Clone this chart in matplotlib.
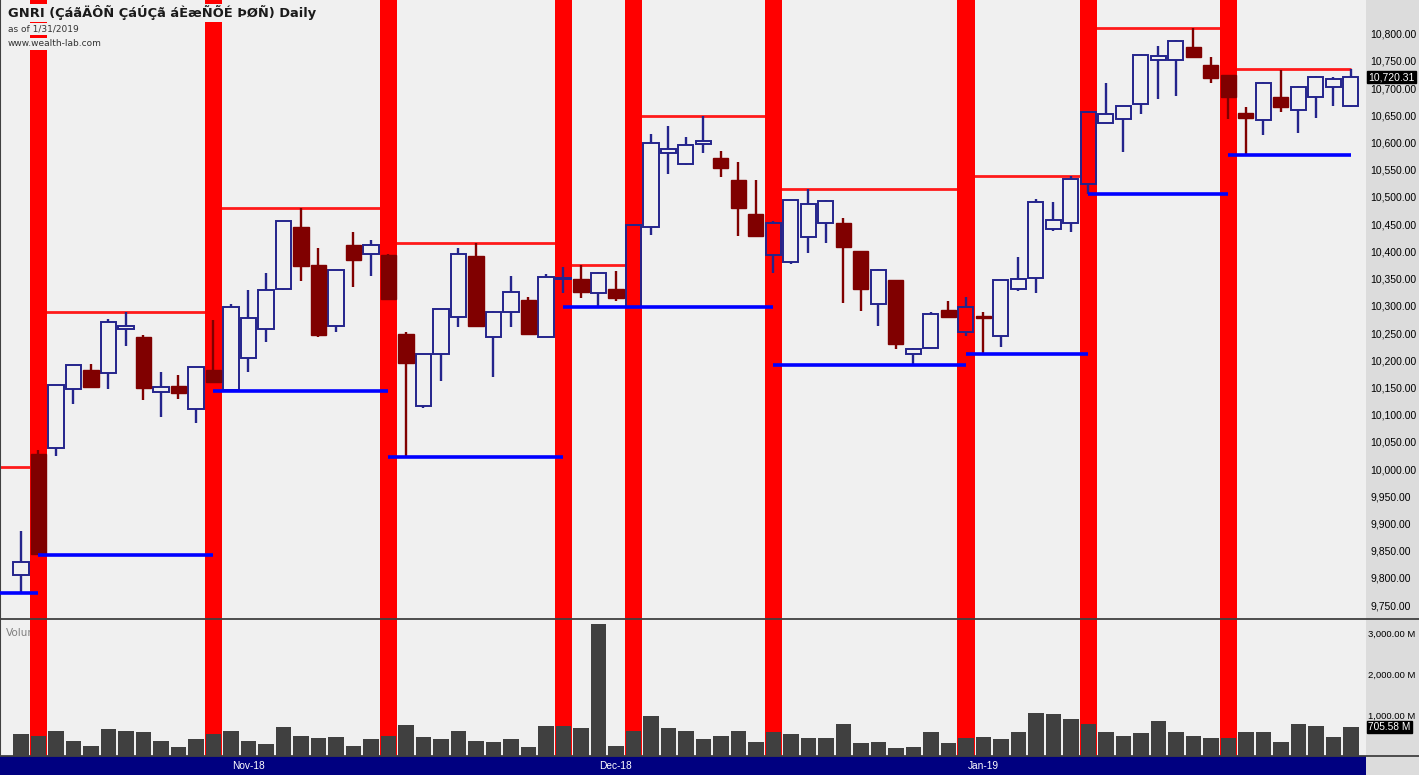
import matplotlib
matplotlib.use("Agg")
import matplotlib.pyplot as plt
import matplotlib.transforms as mtransforms
from matplotlib.patches import Rectangle
from matplotlib.lines import Line2D
from matplotlib.ticker import FuncFormatter, FixedLocator
import numpy as np

# ---------------- data ----------------
opens = [9805, 10028, 10039, 10147, 10182, 10177, 10258, 10243, 10142, 10153,
         10110, 10182, 10145, 10204, 10257, 10330, 10445, 10375, 10263, 10412,
         10395, 10393, 10248, 10116, 10211, 10280, 10391, 10243, 10289, 10311,
         10243, 10350, 10349, 10323, 10331, 10298, 10444, 10580, 10560, 10597,
         10571, 10531, 10469, 10393, 10381, 10427, 10452, 10453, 10400, 10303,
         10347, 10211, 10222, 10292, 10252, 10282, 10245, 10330, 10352, 10441,
         10452, 10524, 10636, 10643, 10671, 10752, 10751, 10776, 10743, 10724,
         10655, 10642, 10684, 10660, 10684, 10703, 10667]
highs = [9886, 10035, 10155, 10192, 10193, 10276, 10289, 10247, 10178, 10173,
         10188, 10274, 10303, 10329, 10360, 10456, 10480, 10406, 10366, 10435,
         10421, 10395, 10252, 10212, 10295, 10407, 10415, 10290, 10354, 10316,
         10358, 10371, 10375, 10362, 10364, 10450, 10615, 10631, 10610, 10648,
         10585, 10564, 10531, 10455, 10495, 10514, 10494, 10462, 10401, 10367,
         10348, 10223, 10288, 10309, 10317, 10289, 10348, 10389, 10496, 10491,
         10539, 10658, 10709, 10668, 10762, 10778, 10789, 10811, 10757, 10725,
         10665, 10711, 10734, 10704, 10722, 10721, 10736]
lows = [9772, 9842, 10024, 10119, 10150, 10147, 10227, 10126, 10096, 10129,
        10085, 10158, 10143, 10178, 10233, 10329, 10346, 10243, 10251, 10334,
        10355, 10310, 10022, 10112, 10162, 10261, 10262, 10169, 10261, 10247,
        10243, 10323, 10314, 10298, 10308, 10298, 10430, 10542, 10559, 10580,
        10537, 10429, 10427, 10361, 10376, 10397, 10415, 10305, 10290, 10263,
        10220, 10192, 10221, 10279, 10245, 10211, 10225, 10328, 10323, 10438,
        10436, 10505, 10636, 10582, 10652, 10681, 10686, 10757, 10709, 10643,
        10577, 10614, 10657, 10617, 10645, 10667, 10666]
closes = [9829, 9844, 10154, 10191, 10151, 10271, 10263, 10149, 10151, 10140,
          10188, 10160, 10298, 10278, 10329, 10455, 10373, 10247, 10365, 10385,
          10412, 10312, 10195, 10211, 10294, 10395, 10263, 10289, 10326, 10248,
          10353, 10352, 10326, 10361, 10314, 10448, 10600, 10588, 10596, 10603,
          10553, 10479, 10428, 10453, 10494, 10487, 10493, 10408, 10330, 10366,
          10230, 10220, 10285, 10279, 10297, 10278, 10347, 10350, 10491, 10457,
          10533, 10657, 10652, 10668, 10761, 10760, 10786, 10757, 10718, 10684,
          10646, 10710, 10666, 10703, 10721, 10716, 10720.31]
volumes = [529, 496, 610, 366, 252, 651, 610, 586, 366, 220,
           407, 545, 610, 366, 285, 700, 488, 431, 464, 252,
           407, 488, 765, 464, 407, 610, 366, 342, 407, 220,
           732, 732, 675, 3213, 252, 610, 976, 675, 610, 407,
           488, 610, 342, 586, 529, 431, 431, 773, 309, 342,
           187, 220, 586, 309, 431, 464, 407, 586, 1041, 1017,
           895, 773, 586, 496, 553, 854, 586, 496, 431, 431,
           586, 586, 342, 773, 732, 464, 705.58]

# signal bars (red vertical highlights), bar indices
signal_bars = [1, 11, 21, 31, 35, 43, 54, 61, 69]

# resistance (red) and support (blue) levels: start bar, end bar, value
red_start = [-2, 1, 11, 21, 31, 35, 43, 54, 61, 69]
red_end = [1, 11, 21, 31, 35, 43, 54, 61, 69, 76]
red_val = [10004, 10289, 10480, 10415, 10375, 10648, 10514, 10539, 10811, 10736]

blue_start = [-2, 1, 11, 21, 31, 43, 54, 61, 69]
blue_end = [1, 11, 21, 31, 43, 54, 61, 69, 76]
blue_val = [9772, 9842, 10143, 10022, 10298, 10192, 10211, 10505, 10577]

month_labels = ["Nov-18", "Dec-18", "Jan-19"]
month_first_bar = [13, 34, 55]

price_ticks = list(range(9750, 10801, 50))
volume_ticks = [1000, 2000, 3000]

title = "GNRI (ÇáãÄÔÑ ÇáÚÇã áÈæÑÕÉ ÞØÑ) Daily"

# ---------------- style ----------------
W, H = 1419, 775
BG = "#f0f0f0"
NAVY = "#24248c"
DOWN = "#800000"
FONT = "Liberation Sans"

fig = plt.figure(figsize=(W / 100, H / 100), dpi=100)
fig.patch.set_facecolor(BG)
fig.add_artist(Rectangle((1366 / W, 0), 1 - 1366 / W, 1, transform=fig.transFigure,
                         facecolor="#dcdcdc", edgecolor="none", zorder=0))

ax = fig.add_axes([0, 1 - 619 / H, 1366 / W, 619 / H])
axv = fig.add_axes([0, 1 - 756 / H, 1366 / W, 137 / H], sharex=ax)
axd = fig.add_axes([0, 0, 1366 / W, 19 / H], sharex=ax)

o = np.array(opens, dtype=float)
h = np.array(highs, dtype=float)
l = np.array(lows, dtype=float)
c = np.array(closes, dtype=float)
v = np.array(volumes, dtype=float)
x = np.arange(len(o))
up = c >= o

for a in (ax, axv):
    a.set_facecolor(BG)
    for b in signal_bars:
        a.axvspan(b - 0.5, b + 0.5, color="#ff0000", lw=0, zorder=2)

# red resistance lines (under the bands)
ax.hlines(red_val, red_start, red_end, colors="#ff1a1a", lw=2.0, zorder=1)

# candles
body_lo = np.minimum(o, c)
body_hi = np.maximum(o, c)
col = np.where(up, NAVY, DOWN)
ax.vlines(x, body_hi, h, colors=col, lw=1.7, zorder=3)
ax.vlines(x, l, body_lo, colors=col, lw=1.7, zorder=3)
ax.bar(x[up], (body_hi - body_lo)[up], bottom=body_lo[up], width=0.86,
       facecolor="none", edgecolor=NAVY, linewidth=1.4, zorder=4)
ax.bar(x[~up], (body_hi - body_lo)[~up], bottom=body_lo[~up], width=0.86,
       facecolor=DOWN, edgecolor=DOWN, linewidth=1.0, zorder=4)

# blue support lines
ax.hlines(blue_val, blue_start, blue_end, colors="#0000ff", lw=2.6, zorder=5)

ax.set_xlim(-1.2, 76.86)
ax.set_ylim(9724.3, 10862.1)

# volume
axv.bar(x, v, width=0.87, color="#404040", zorder=4)
axv.set_ylim(0, 3343)

# axes cosmetics
for a in (ax, axv, axd):
    for s in a.spines.values():
        s.set_visible(False)
    a.tick_params(axis="x", bottom=False, labelbottom=False)
for a in (ax, axv):
    a.spines["left"].set_visible(True)
    a.spines["left"].set_color("#404040")
    a.spines["left"].set_linewidth(1.5)
    a.yaxis.tick_right()
    a.tick_params(axis="y", length=0, pad=3, labelsize=7.5, labelcolor="black")
axv.tick_params(axis="y", pad=1.5, labelsize=6.8)

ax.yaxis.set_major_locator(FixedLocator(price_ticks))
ax.yaxis.set_major_formatter(FuncFormatter(lambda val, p: f"{val:,.2f}"))
axv.yaxis.set_major_locator(FixedLocator(volume_ticks))
axv.yaxis.set_major_formatter(FuncFormatter(lambda val, p: f"{val:,.2f} M"))
for a in (ax, axv):
    for t in a.get_yticklabels():
        t.set_fontfamily(FONT)

# last value boxes
tr = mtransforms.blended_transform_factory(ax.transAxes, ax.transData)
ax.text(1.0015, c[-1], f"{c[-1]:,.2f}", transform=tr, ha="left", va="center",
        fontsize=7.5, family=FONT, color="white", zorder=20, clip_on=False,
        bbox=dict(boxstyle="square,pad=0.12", facecolor="black", edgecolor="black"))
trv = mtransforms.blended_transform_factory(axv.transAxes, axv.transData)
axv.text(1.0015, v[-1], f"{v[-1]:,.2f} M", transform=trv, ha="left", va="center",
         fontsize=7.3, family=FONT, color="white", zorder=20, clip_on=False,
         bbox=dict(boxstyle="square,pad=0.12", facecolor="black", edgecolor="black"))

axv.text(0.004, 0.9, "Volume", transform=axv.transAxes, ha="left", va="center",
         fontsize=7.5, color="#808080", zorder=1)

# date strip
axd.set_facecolor("#000080")
axd.set_yticks([])
for lab, pos in zip(month_labels, month_first_bar):
    axd.text(pos, 0.45, lab, transform=axd.get_xaxis_transform(), ha="center",
             va="center", color="white", fontsize=7.3, family=FONT)

# separator lines
for yy in (619, 756):
    fig.add_artist(Line2D([0, 1], [1 - yy / H, 1 - yy / H], transform=fig.transFigure,
                          color="#404040", lw=1.3, zorder=10))

# header text (opaque backgrounds cover the highlight bands)
hdr_box = dict(boxstyle="square,pad=0.15", facecolor=BG, edgecolor="none")
fig.text(8 / W, 1 - 13 / H, title, ha="left", va="center", fontsize=9.4,
         fontweight="bold", family="DejaVu Sans", color="#1a1a1a", bbox=hdr_box, zorder=30)
fig.text(8 / W, 1 - 29 / H, "as of 1/31/2019", ha="left", va="center",
         fontsize=6.5, family="DejaVu Sans", color="#333333", bbox=hdr_box, zorder=30)
fig.text(8 / W, 1 - 44 / H, "www.wealth-lab.com", ha="left", va="center",
         fontsize=6.5, family="DejaVu Sans", color="#333333", bbox=hdr_box, zorder=30)

fig.savefig("out.png", dpi=100, facecolor=fig.get_facecolor())
